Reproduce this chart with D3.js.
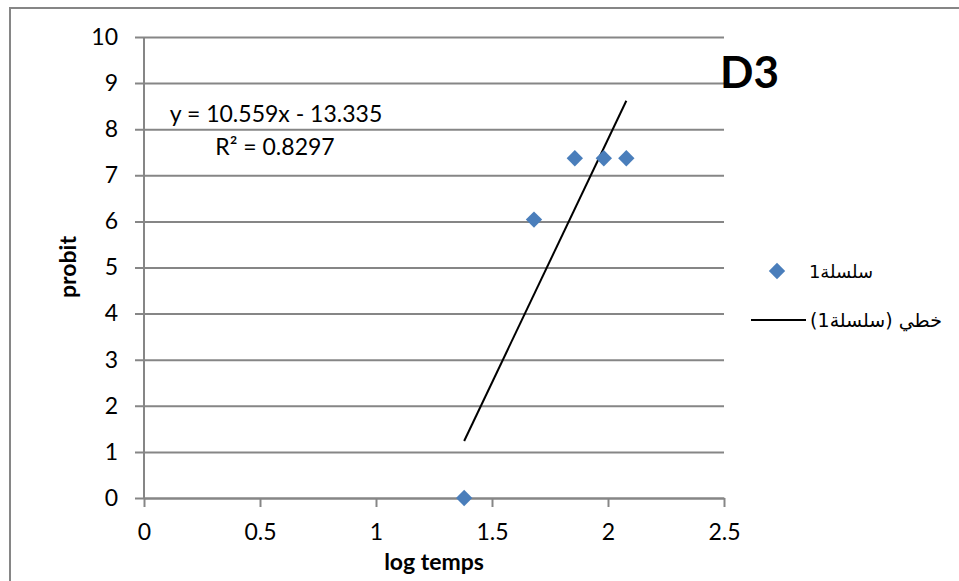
<!DOCTYPE html>
<html>
<head>
<meta charset="utf-8">
<script src="https://cdn.jsdelivr.net/npm/d3@7"></script>
<style>
  body { margin: 0; background: #fff; }
  svg text { font-family: Lato, "Open Sans", "DejaVu Sans", sans-serif; fill: #000; }
</style>
</head>
<body>
<svg id="chart_svg"></svg>
<script>
var logTemps = [1.380, 1.681, 1.857, 1.982, 2.079];
var probits = [0, 6.04, 7.37, 7.37, 7.37];
var xTicks = [0, 0.5, 1, 1.5, 2, 2.5];
var yTicks = [0, 1, 2, 3, 4, 5, 6, 7, 8, 9, 10];
var slope = 10.559, intercept = -13.335;
var eqText = 'y = 10.559x - 13.335';
var r2Text = 'R² = 0.8297';
var seriesName = 'سلسلة1';
var trendName = 'خطي (سلسلة1)';

var width = 959, height = 581;
var margin = {top: 37, right: 235, bottom: 83, left: 144};
var gridColor = '#868686';
var labelFont = 'Lato, "Open Sans", sans-serif';

var svg = d3.select('#chart_svg')
  .attr('width', width)
  .attr('height', height);

// outer chart frame (runs off the right and bottom)
svg.append('rect')
  .attr('x', 10).attr('y', 8)
  .attr('width', 1000).attr('height', 1000)
  .style('fill', 'none')
  .style('stroke', gridColor)
  .style('stroke-width', 2);

var x = d3.scaleLinear().domain([0, 2.5]).range([margin.left, width - margin.right]);
var y = d3.scaleLinear().domain([0, 10]).range([height - margin.bottom, margin.top]);

// horizontal gridlines + y axis
var yAxis = d3.axisLeft(y)
  .tickValues(yTicks)
  .tickSize(-(x(2.5) - x(0)))
  .tickSizeOuter(0)
  .tickPadding(26);

var yAxisGroup = svg.append('g')
  .attr('transform', 'translate(' + x(0) + ',0)')
  .call(yAxis);
yAxisGroup.select('.domain').remove();
yAxisGroup.selectAll('line')
  .attr('x1', -9)
  .style('stroke', gridColor).style('stroke-width', 2);
yAxisGroup.selectAll('text')
  .style('font-size', '23px')
  .style('font-family', labelFont);

svg.append('line')
  .attr('x1', x(0)).attr('x2', x(0))
  .attr('y1', y(10)).attr('y2', y(0))
  .style('stroke', gridColor).style('stroke-width', 2);

// x axis
var xAxis = d3.axisBottom(x)
  .tickValues(xTicks)
  .tickFormat(d3.format('~g'))
  .tickSize(9)
  .tickSizeOuter(0)
  .tickPadding(17);

var xAxisGroup = svg.append('g')
  .attr('transform', 'translate(0,' + y(0) + ')')
  .call(xAxis);
xAxisGroup.select('.domain')
  .style('stroke', gridColor).style('stroke-width', 2);
xAxisGroup.selectAll('line')
  .style('stroke', gridColor).style('stroke-width', 2);
xAxisGroup.selectAll('text')
  .style('font-size', '23px')
  .style('font-family', labelFont);

// axis titles
svg.append('text')
  .attr('x', 434).attr('y', 570)
  .style('text-anchor', 'middle')
  .style('font-size', '23px')
  .style('font-weight', 'bold')
  .text('log temps');

svg.append('text')
  .attr('transform', 'translate(76,267) rotate(-90)')
  .style('text-anchor', 'middle')
  .style('font-size', '23px')
  .style('font-weight', 'bold')
  .text('probit');

// trendline
var xMin = d3.min(logTemps), xMax = d3.max(logTemps);
svg.append('line')
  .attr('x1', x(xMin)).attr('y1', y(slope * xMin + intercept))
  .attr('x2', x(xMax)).attr('y2', y(slope * xMax + intercept))
  .style('stroke', '#000').style('stroke-width', 2);

// points
var diamond = d3.symbol().type(d3.symbolDiamond2).size(170);
svg.selectAll('.pt')
  .data(logTemps)
  .enter()
  .append('path')
  .attr('class', 'pt')
  .attr('d', diamond)
  .attr('transform', function(d, i) {
    return 'translate(' + x(d) + ',' + y(probits[i]) + ')';
  })
  .style('fill', '#4A7EBB');

// equation
svg.append('text')
  .attr('x', 276).attr('y', 122)
  .style('text-anchor', 'middle')
  .style('font-size', '23px')
  .text(eqText);
svg.append('text')
  .attr('x', 275).attr('y', 155)
  .style('text-anchor', 'middle')
  .style('font-size', '23px')
  .text(r2Text);

// panel label
svg.append('text')
  .attr('x', 720).attr('y', 88)
  .style('font-size', '44px')
  .style('font-weight', 'bold')
  .text('D3');

// legend
svg.append('path')
  .attr('d', diamond)
  .attr('transform', 'translate(777,271)')
  .style('fill', '#4A7EBB');
svg.append('text')
  .attr('x', 841).attr('y', 278)
  .attr('direction', 'rtl')
  .style('text-anchor', 'middle')
  .style('font-size', '18px')
  .style('font-family', '"DejaVu Sans", sans-serif')
  .text(seriesName);

svg.append('line')
  .attr('x1', 751).attr('x2', 806)
  .attr('y1', 320).attr('y2', 320)
  .style('stroke', '#000').style('stroke-width', 2);
svg.append('text')
  .attr('x', 876).attr('y', 327)
  .attr('direction', 'rtl')
  .style('text-anchor', 'middle')
  .style('font-size', '19px')
  .style('font-family', '"DejaVu Sans", sans-serif')
  .text(trendName);
</script>
</body>
</html>
